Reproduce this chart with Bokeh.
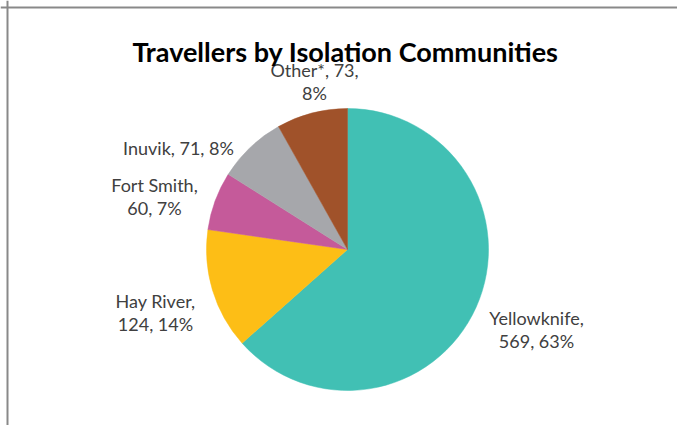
import math
from bokeh.plotting import figure
from bokeh.models import Range1d, Span, ColumnDataSource
from bokeh.core.properties import value
from bokeh.embed import file_html
from bokeh.resources import INLINE

# ---- data ----
communities = ["Yellowknife", "Hay River", "Fort Smith", "Inuvik", "Other*"]
travellers = [569, 124, 60, 71, 73]
colors = ["#41C0B4", "#FDBE16", "#C55A9A", "#A6A7AB", "#A0522A"]
title_text = "Travellers by Isolation Communities"

# label layout (screen px): centre x, first-line baseline y, lines split
label_pos = [(536, 317), (155, 300), (154, 184), (178, 147), (314, 69)]
label_split = [1, 1, 1, 0, 2]  # split after this many comma parts (0 = one line)

W, H = 677, 425
TOP = H

total = sum(travellers)
pcts = [round(100 * v / total) for v in travellers]

p = figure(width=W, height=H, output_backend="svg", toolbar_location=None,
           x_range=Range1d(0, W), y_range=Range1d(0, H), min_border=0,
           outline_line_color=None)
p.axis.visible = False
p.grid.visible = False
p.background_fill_color = "white"
p.border_fill_color = "white"

# pie
cx, cy, r = 347, TOP - 249, 141
starts, ends = [], []
acc = 0.0
for v in travellers:
    s = math.pi / 2 - 2 * math.pi * acc / total
    acc += v
    e = math.pi / 2 - 2 * math.pi * acc / total
    starts.append(s)
    ends.append(e)
src = ColumnDataSource(dict(start=starts, end=ends, color=colors, name=communities,
                            val=travellers))
p.wedge(x=cx, y=cy, radius=r, start_angle="start", end_angle="end",
        direction="clock", fill_color="color", line_color="color", line_width=0.5,
        source=src)

# labels
lx, ly, lt = [], [], []
for name, v, pc, (px, py), sp in zip(communities, travellers, pcts, label_pos, label_split):
    parts = [name + ",", f"{v},", f"{pc}%"]
    if sp == 0:
        lines = [" ".join(parts)]
    else:
        lines = [" ".join(parts[:sp]), " ".join(parts[sp:])]
    for i, ln in enumerate(lines):
        lx.append(px)
        ly.append(TOP - (py + 23 * i))
        lt.append(ln)
p.text(x=lx, y=ly, text=lt, text_font=value("Lato"), text_font_size="18px",
       text_color="#404040", text_align="center", text_baseline="alphabetic")

# title
p.text(x=[345], y=[TOP - 51], text=[title_text], text_font=value("Lato"),
       text_font_size="27px", text_font_style="bold", text_color="#000000",
       text_align="center", text_baseline="alphabetic")

# chart frame (left and top edges)
p.add_layout(Span(location=7, dimension="height", line_color="#898989", line_width=2))
p.add_layout(Span(location=H - 7, dimension="width", line_color="#898989", line_width=2))

open("out.html", "w").write(file_html(p, INLINE))
